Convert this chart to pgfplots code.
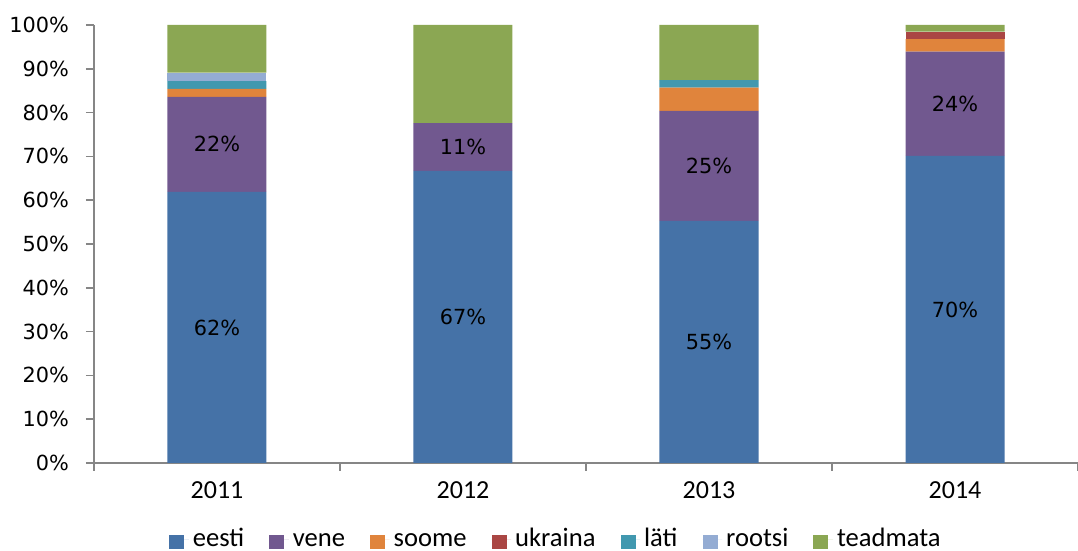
\documentclass[border=0pt]{standalone}
\usepackage{pgfplots}
\pgfplotsset{compat=1.18}
\usepackage{fontspec}
\setmainfont{DejaVu Sans}
\newfontfamily\calfont{Carlito}
\definecolor{ceesti}{HTML}{4572A7}
\definecolor{cvene}{HTML}{71588F}
\definecolor{csoome}{HTML}{E0843C}
\definecolor{cukraina}{HTML}{AA4644}
\definecolor{claeti}{HTML}{4198AF}
\definecolor{crootsi}{HTML}{94ACD3}
\definecolor{cteadmata}{HTML}{8BA753}
\definecolor{axgray}{HTML}{868686}
\begin{document}
\begin{tikzpicture}
\path[use as bounding box] (-47pt,-44pt) rectangle (492pt,231.5pt);
\begin{axis}[
  scale only axis,
  width=492pt, height=219pt,
  ybar stacked, bar width=49.5pt,
  xmin=-0.5, xmax=3.5, ymin=0, ymax=100,
  axis x line=bottom, axis y line=left,
  axis line style={draw=axgray, line width=0.75pt, -},
  xtick={-0.5,0.5,1.5,2.5,3.5}, xticklabels={},
  extra x ticks={0,1,2,3},
  extra x tick labels={2011,2012,2013,2014},
  extra x tick style={major tick length=0pt, xticklabel style={font=\calfont\fontsize{13}{15}\selectfont, yshift=-6pt}},
  ytick={0,10,...,100},
  yticklabels={0\%,10\%,20\%,30\%,40\%,50\%,60\%,70\%,80\%,90\%,100\%},
  yticklabel style={font=\fontsize{10.4}{12}\selectfont, xshift=-5pt},
  tick align=outside, major tick length=4pt,
  tick style={draw=axgray, line width=0.75pt},
  legend style={at={(0.4705,-0.1767)}, anchor=center, draw=none, fill=none,
    inner sep=0pt,
    font=\calfont\fontsize{13.3}{15}\selectfont, legend columns=7,
    nodes={inner ysep=0pt, text height=0.7em, text depth=0pt},
    /tikz/every even column/.append style={column sep=10.5pt}},
  legend image code/.code={\path (0pt,0pt) -- (9.8pt,0pt);\fill[#1] (0pt,-4.65pt) rectangle (7.5pt,2.15pt);},
]
\addplot[fill=ceesti, draw=none] coordinates {(0,61.9) (1,66.7) (2,55.3) (3,70.1)};
\addlegendentry{eesti}
\addplot[fill=cvene, draw=none] coordinates {(0,21.7) (1,10.9) (2,25.1) (3,23.8)};
\addlegendentry{vene}
\addplot[fill=csoome, draw=none] coordinates {(0,1.8) (1,0) (2,5.3) (3,2.9)};
\addlegendentry{soome}
\addplot[fill=cukraina, draw=none] coordinates {(0,0) (1,0) (2,0) (3,1.7)};
\addlegendentry{ukraina}
\addplot[fill=claeti, draw=none] coordinates {(0,1.8) (1,0) (2,1.7) (3,0)};
\addlegendentry{läti}
\addplot[fill=crootsi, draw=none] coordinates {(0,1.9) (1,0) (2,0) (3,0)};
\addlegendentry{rootsi}
\addplot[fill=cteadmata, draw=none] coordinates {(0,10.9) (1,22.4) (2,12.6) (3,1.5)};
\addlegendentry{teadmata}
\end{axis}
\begin{axis}[
  scale only axis,
  width=492pt, height=219pt,
  xmin=-0.5, xmax=3.5, ymin=0, ymax=100,
  hide axis,
]
\addplot[only marks, mark=none, nodes near coords, point meta=explicit symbolic,
  every node near coord/.append style={anchor=center, font=\fontsize{10.4}{12}\selectfont}]
  coordinates {(0,30.95)[62\%] (0,72.75)[22\%] (1,33.35)[67\%] (1,72.15)[11\%]
    (2,27.65)[55\%] (2,67.85)[25\%] (3,35.05)[70\%] (3,82.0)[24\%]};
\end{axis}
\end{tikzpicture}
\end{document}
